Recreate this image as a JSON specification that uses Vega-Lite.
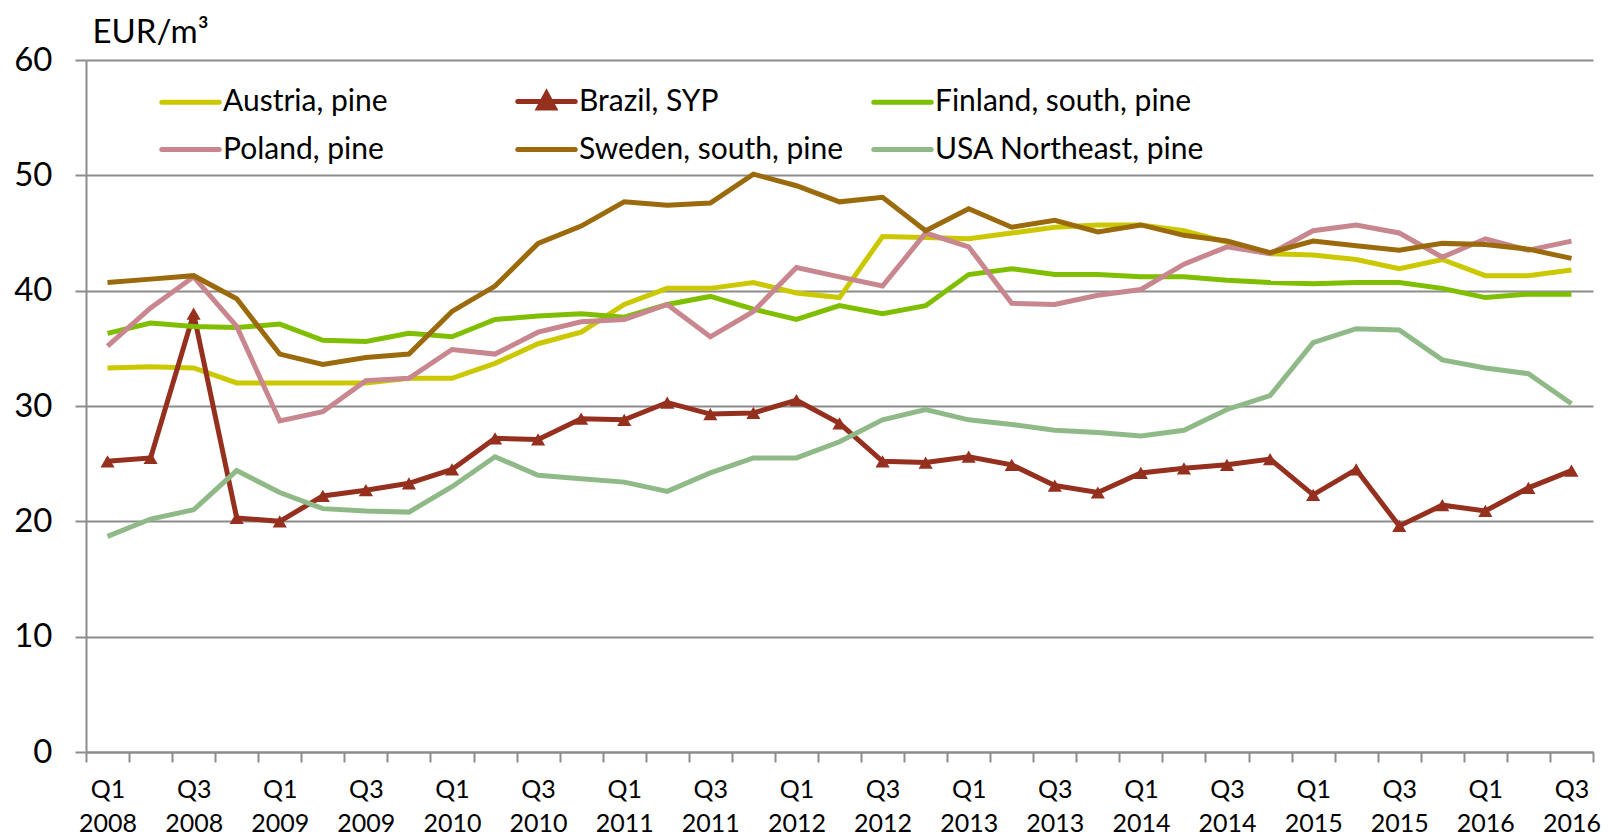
{
"$schema": "https://vega.github.io/schema/vega-lite/v6.json",
"width": 1507, "height": 692,
"autosize": "none",
"padding": {"left": 86, "top": 60, "right": 15, "bottom": 86},
"background": "white",
"config": {"font": "Lato", "view": {"stroke": null}},
"data": {"values": [
{"q":"Q1 2008","s":"Austria, pine","v":33.3},{"q":"Q2 2008","s":"Austria, pine","v":33.4},{"q":"Q3 2008","s":"Austria, pine","v":33.3},{"q":"Q4 2008","s":"Austria, pine","v":32.0},
{"q":"Q1 2009","s":"Austria, pine","v":32.0},{"q":"Q2 2009","s":"Austria, pine","v":32.0},{"q":"Q3 2009","s":"Austria, pine","v":32.0},{"q":"Q4 2009","s":"Austria, pine","v":32.4},
{"q":"Q1 2010","s":"Austria, pine","v":32.4},{"q":"Q2 2010","s":"Austria, pine","v":33.7},{"q":"Q3 2010","s":"Austria, pine","v":35.4},{"q":"Q4 2010","s":"Austria, pine","v":36.4},
{"q":"Q1 2011","s":"Austria, pine","v":38.8},{"q":"Q2 2011","s":"Austria, pine","v":40.2},{"q":"Q3 2011","s":"Austria, pine","v":40.2},{"q":"Q4 2011","s":"Austria, pine","v":40.7},
{"q":"Q1 2012","s":"Austria, pine","v":39.8},{"q":"Q2 2012","s":"Austria, pine","v":39.4},{"q":"Q3 2012","s":"Austria, pine","v":44.7},{"q":"Q4 2012","s":"Austria, pine","v":44.6},
{"q":"Q1 2013","s":"Austria, pine","v":44.5},{"q":"Q2 2013","s":"Austria, pine","v":45.0},{"q":"Q3 2013","s":"Austria, pine","v":45.5},{"q":"Q4 2013","s":"Austria, pine","v":45.7},
{"q":"Q1 2014","s":"Austria, pine","v":45.7},{"q":"Q2 2014","s":"Austria, pine","v":45.2},{"q":"Q3 2014","s":"Austria, pine","v":44.2},{"q":"Q4 2014","s":"Austria, pine","v":43.2},
{"q":"Q1 2015","s":"Austria, pine","v":43.1},{"q":"Q2 2015","s":"Austria, pine","v":42.7},{"q":"Q3 2015","s":"Austria, pine","v":41.9},{"q":"Q4 2015","s":"Austria, pine","v":42.7},
{"q":"Q1 2016","s":"Austria, pine","v":41.3},{"q":"Q2 2016","s":"Austria, pine","v":41.3},{"q":"Q3 2016","s":"Austria, pine","v":41.8},

{"q":"Q1 2008","s":"Brazil, SYP","v":25.2},{"q":"Q2 2008","s":"Brazil, SYP","v":25.5},{"q":"Q3 2008","s":"Brazil, SYP","v":38.0},{"q":"Q4 2008","s":"Brazil, SYP","v":20.3},
{"q":"Q1 2009","s":"Brazil, SYP","v":20.0},{"q":"Q2 2009","s":"Brazil, SYP","v":22.2},{"q":"Q3 2009","s":"Brazil, SYP","v":22.7},{"q":"Q4 2009","s":"Brazil, SYP","v":23.3},
{"q":"Q1 2010","s":"Brazil, SYP","v":24.5},{"q":"Q2 2010","s":"Brazil, SYP","v":27.2},{"q":"Q3 2010","s":"Brazil, SYP","v":27.1},{"q":"Q4 2010","s":"Brazil, SYP","v":28.9},
{"q":"Q1 2011","s":"Brazil, SYP","v":28.8},{"q":"Q2 2011","s":"Brazil, SYP","v":30.3},{"q":"Q3 2011","s":"Brazil, SYP","v":29.3},{"q":"Q4 2011","s":"Brazil, SYP","v":29.4},
{"q":"Q1 2012","s":"Brazil, SYP","v":30.5},{"q":"Q2 2012","s":"Brazil, SYP","v":28.5},{"q":"Q3 2012","s":"Brazil, SYP","v":25.2},{"q":"Q4 2012","s":"Brazil, SYP","v":25.1},
{"q":"Q1 2013","s":"Brazil, SYP","v":25.6},{"q":"Q2 2013","s":"Brazil, SYP","v":24.9},{"q":"Q3 2013","s":"Brazil, SYP","v":23.1},{"q":"Q4 2013","s":"Brazil, SYP","v":22.5},
{"q":"Q1 2014","s":"Brazil, SYP","v":24.2},{"q":"Q2 2014","s":"Brazil, SYP","v":24.6},{"q":"Q3 2014","s":"Brazil, SYP","v":24.9},{"q":"Q4 2014","s":"Brazil, SYP","v":25.4},
{"q":"Q1 2015","s":"Brazil, SYP","v":22.3},{"q":"Q2 2015","s":"Brazil, SYP","v":24.5},{"q":"Q3 2015","s":"Brazil, SYP","v":19.6},{"q":"Q4 2015","s":"Brazil, SYP","v":21.4},
{"q":"Q1 2016","s":"Brazil, SYP","v":20.9},{"q":"Q2 2016","s":"Brazil, SYP","v":22.9},{"q":"Q3 2016","s":"Brazil, SYP","v":24.4},

{"q":"Q1 2008","s":"Finland, south, pine","v":36.3},{"q":"Q2 2008","s":"Finland, south, pine","v":37.2},{"q":"Q3 2008","s":"Finland, south, pine","v":36.9},{"q":"Q4 2008","s":"Finland, south, pine","v":36.8},
{"q":"Q1 2009","s":"Finland, south, pine","v":37.1},{"q":"Q2 2009","s":"Finland, south, pine","v":35.7},{"q":"Q3 2009","s":"Finland, south, pine","v":35.6},{"q":"Q4 2009","s":"Finland, south, pine","v":36.3},
{"q":"Q1 2010","s":"Finland, south, pine","v":36.0},{"q":"Q2 2010","s":"Finland, south, pine","v":37.5},{"q":"Q3 2010","s":"Finland, south, pine","v":37.8},{"q":"Q4 2010","s":"Finland, south, pine","v":38.0},
{"q":"Q1 2011","s":"Finland, south, pine","v":37.7},{"q":"Q2 2011","s":"Finland, south, pine","v":38.8},{"q":"Q3 2011","s":"Finland, south, pine","v":39.5},{"q":"Q4 2011","s":"Finland, south, pine","v":38.4},
{"q":"Q1 2012","s":"Finland, south, pine","v":37.5},{"q":"Q2 2012","s":"Finland, south, pine","v":38.7},{"q":"Q3 2012","s":"Finland, south, pine","v":38.0},{"q":"Q4 2012","s":"Finland, south, pine","v":38.7},
{"q":"Q1 2013","s":"Finland, south, pine","v":41.4},{"q":"Q2 2013","s":"Finland, south, pine","v":41.9},{"q":"Q3 2013","s":"Finland, south, pine","v":41.4},{"q":"Q4 2013","s":"Finland, south, pine","v":41.4},
{"q":"Q1 2014","s":"Finland, south, pine","v":41.2},{"q":"Q2 2014","s":"Finland, south, pine","v":41.2},{"q":"Q3 2014","s":"Finland, south, pine","v":40.9},{"q":"Q4 2014","s":"Finland, south, pine","v":40.7},
{"q":"Q1 2015","s":"Finland, south, pine","v":40.6},{"q":"Q2 2015","s":"Finland, south, pine","v":40.7},{"q":"Q3 2015","s":"Finland, south, pine","v":40.7},{"q":"Q4 2015","s":"Finland, south, pine","v":40.2},
{"q":"Q1 2016","s":"Finland, south, pine","v":39.4},{"q":"Q2 2016","s":"Finland, south, pine","v":39.7},{"q":"Q3 2016","s":"Finland, south, pine","v":39.7},

{"q":"Q1 2008","s":"Poland, pine","v":35.2},{"q":"Q2 2008","s":"Poland, pine","v":38.5},{"q":"Q3 2008","s":"Poland, pine","v":41.2},{"q":"Q4 2008","s":"Poland, pine","v":36.9},
{"q":"Q1 2009","s":"Poland, pine","v":28.7},{"q":"Q2 2009","s":"Poland, pine","v":29.5},{"q":"Q3 2009","s":"Poland, pine","v":32.2},{"q":"Q4 2009","s":"Poland, pine","v":32.4},
{"q":"Q1 2010","s":"Poland, pine","v":34.9},{"q":"Q2 2010","s":"Poland, pine","v":34.5},{"q":"Q3 2010","s":"Poland, pine","v":36.4},{"q":"Q4 2010","s":"Poland, pine","v":37.3},
{"q":"Q1 2011","s":"Poland, pine","v":37.5},{"q":"Q2 2011","s":"Poland, pine","v":38.8},{"q":"Q3 2011","s":"Poland, pine","v":36.0},{"q":"Q4 2011","s":"Poland, pine","v":38.2},
{"q":"Q1 2012","s":"Poland, pine","v":42.0},{"q":"Q2 2012","s":"Poland, pine","v":41.2},{"q":"Q3 2012","s":"Poland, pine","v":40.4},{"q":"Q4 2012","s":"Poland, pine","v":45.0},
{"q":"Q1 2013","s":"Poland, pine","v":43.8},{"q":"Q2 2013","s":"Poland, pine","v":38.9},{"q":"Q3 2013","s":"Poland, pine","v":38.8},{"q":"Q4 2013","s":"Poland, pine","v":39.6},
{"q":"Q1 2014","s":"Poland, pine","v":40.1},{"q":"Q2 2014","s":"Poland, pine","v":42.3},{"q":"Q3 2014","s":"Poland, pine","v":43.8},{"q":"Q4 2014","s":"Poland, pine","v":43.2},
{"q":"Q1 2015","s":"Poland, pine","v":45.2},{"q":"Q2 2015","s":"Poland, pine","v":45.7},{"q":"Q3 2015","s":"Poland, pine","v":45.0},{"q":"Q4 2015","s":"Poland, pine","v":42.9},
{"q":"Q1 2016","s":"Poland, pine","v":44.5},{"q":"Q2 2016","s":"Poland, pine","v":43.5},{"q":"Q3 2016","s":"Poland, pine","v":44.3},

{"q":"Q1 2008","s":"Sweden, south, pine","v":40.7},{"q":"Q2 2008","s":"Sweden, south, pine","v":41.0},{"q":"Q3 2008","s":"Sweden, south, pine","v":41.3},{"q":"Q4 2008","s":"Sweden, south, pine","v":39.3},
{"q":"Q1 2009","s":"Sweden, south, pine","v":34.5},{"q":"Q2 2009","s":"Sweden, south, pine","v":33.6},{"q":"Q3 2009","s":"Sweden, south, pine","v":34.2},{"q":"Q4 2009","s":"Sweden, south, pine","v":34.5},
{"q":"Q1 2010","s":"Sweden, south, pine","v":38.2},{"q":"Q2 2010","s":"Sweden, south, pine","v":40.4},{"q":"Q3 2010","s":"Sweden, south, pine","v":44.1},{"q":"Q4 2010","s":"Sweden, south, pine","v":45.6},
{"q":"Q1 2011","s":"Sweden, south, pine","v":47.7},{"q":"Q2 2011","s":"Sweden, south, pine","v":47.4},{"q":"Q3 2011","s":"Sweden, south, pine","v":47.6},{"q":"Q4 2011","s":"Sweden, south, pine","v":50.1},
{"q":"Q1 2012","s":"Sweden, south, pine","v":49.1},{"q":"Q2 2012","s":"Sweden, south, pine","v":47.7},{"q":"Q3 2012","s":"Sweden, south, pine","v":48.1},{"q":"Q4 2012","s":"Sweden, south, pine","v":45.2},
{"q":"Q1 2013","s":"Sweden, south, pine","v":47.1},{"q":"Q2 2013","s":"Sweden, south, pine","v":45.5},{"q":"Q3 2013","s":"Sweden, south, pine","v":46.1},{"q":"Q4 2013","s":"Sweden, south, pine","v":45.1},
{"q":"Q1 2014","s":"Sweden, south, pine","v":45.7},{"q":"Q2 2014","s":"Sweden, south, pine","v":44.8},{"q":"Q3 2014","s":"Sweden, south, pine","v":44.3},{"q":"Q4 2014","s":"Sweden, south, pine","v":43.3},
{"q":"Q1 2015","s":"Sweden, south, pine","v":44.3},{"q":"Q2 2015","s":"Sweden, south, pine","v":43.9},{"q":"Q3 2015","s":"Sweden, south, pine","v":43.5},{"q":"Q4 2015","s":"Sweden, south, pine","v":44.1},
{"q":"Q1 2016","s":"Sweden, south, pine","v":44.0},{"q":"Q2 2016","s":"Sweden, south, pine","v":43.6},{"q":"Q3 2016","s":"Sweden, south, pine","v":42.8},

{"q":"Q1 2008","s":"USA Northeast, pine","v":18.7},{"q":"Q2 2008","s":"USA Northeast, pine","v":20.2},{"q":"Q3 2008","s":"USA Northeast, pine","v":21.0},{"q":"Q4 2008","s":"USA Northeast, pine","v":24.4},
{"q":"Q1 2009","s":"USA Northeast, pine","v":22.5},{"q":"Q2 2009","s":"USA Northeast, pine","v":21.1},{"q":"Q3 2009","s":"USA Northeast, pine","v":20.9},{"q":"Q4 2009","s":"USA Northeast, pine","v":20.8},
{"q":"Q1 2010","s":"USA Northeast, pine","v":23.0},{"q":"Q2 2010","s":"USA Northeast, pine","v":25.6},{"q":"Q3 2010","s":"USA Northeast, pine","v":24.0},{"q":"Q4 2010","s":"USA Northeast, pine","v":23.7},
{"q":"Q1 2011","s":"USA Northeast, pine","v":23.4},{"q":"Q2 2011","s":"USA Northeast, pine","v":22.6},{"q":"Q3 2011","s":"USA Northeast, pine","v":24.2},{"q":"Q4 2011","s":"USA Northeast, pine","v":25.5},
{"q":"Q1 2012","s":"USA Northeast, pine","v":25.5},{"q":"Q2 2012","s":"USA Northeast, pine","v":26.9},{"q":"Q3 2012","s":"USA Northeast, pine","v":28.8},{"q":"Q4 2012","s":"USA Northeast, pine","v":29.7},
{"q":"Q1 2013","s":"USA Northeast, pine","v":28.8},{"q":"Q2 2013","s":"USA Northeast, pine","v":28.4},{"q":"Q3 2013","s":"USA Northeast, pine","v":27.9},{"q":"Q4 2013","s":"USA Northeast, pine","v":27.7},
{"q":"Q1 2014","s":"USA Northeast, pine","v":27.4},{"q":"Q2 2014","s":"USA Northeast, pine","v":27.9},{"q":"Q3 2014","s":"USA Northeast, pine","v":29.7},{"q":"Q4 2014","s":"USA Northeast, pine","v":30.9},
{"q":"Q1 2015","s":"USA Northeast, pine","v":35.5},{"q":"Q2 2015","s":"USA Northeast, pine","v":36.7},{"q":"Q3 2015","s":"USA Northeast, pine","v":36.6},{"q":"Q4 2015","s":"USA Northeast, pine","v":34.0},
{"q":"Q1 2016","s":"USA Northeast, pine","v":33.3},{"q":"Q2 2016","s":"USA Northeast, pine","v":32.8},{"q":"Q3 2016","s":"USA Northeast, pine","v":30.2}
]},
"encoding": {
  "x": {"field": "q", "type": "ordinal", "sort": null,
    "scale": {"type": "band", "paddingInner": 0, "paddingOuter": 0},
    "axis": {"title": null, "tickBand": "extent", "labelAngle": 0,
      "labelExpr": "!isString(datum.value) ? '' : (indexof(datum.value,'Q2')>=0 || indexof(datum.value,'Q4')>=0 ? '' : split(datum.value,' '))",
      "labelFontSize": 25, "labelColor": "black", "labelBaseline": "top", "labelLineHeight": 34,
      "labelPadding": 15, "labelOverlap": false, "labelBound": false, "labelFlush": false,
      "tickSize": 10, "tickColor": "#8c8c8c", "tickWidth": 2, "domainColor": "#8c8c8c", "domainWidth": 2, "grid": false}},
  "y": {"field": "v", "type": "quantitative", "scale": {"domain": [0, 60], "nice": false, "zero": true},
    "axis": {"title": "EUR/m³", "titleAngle": 0, "titleX": 6, "titleY": -18, "titleAlign": "left", "titleBaseline": "alphabetic",
      "titleFontSize": 33, "titleFontWeight": "normal", "titleColor": "black",
      "values": [0, 10, 20, 30, 40, 50, 60], "labelFontSize": 33, "labelColor": "black", "labelPadding": 23,
      "tickSize": 11, "tickColor": "#8c8c8c", "tickWidth": 2, "domainColor": "#8c8c8c", "domainWidth": 2,
      "grid": true, "gridColor": "#8c8c8c", "gridWidth": 2}}
},
"layer": [
  {"mark": {"type": "line", "strokeWidth": 5},
   "encoding": {"color": {"field": "s", "type": "nominal",
     "scale": {"domain": ["Austria, pine", "Brazil, SYP", "Finland, south, pine", "Poland, pine", "Sweden, south, pine", "USA Northeast, pine"],
               "range": ["#CCC800", "#96301E", "#80BE00", "#C8868E", "#9A6A0C", "#8FBA87"]},
     "legend": {"title": null, "orient": "none", "legendX": 73, "legendY": 10, "columns": 3, "direction": "horizontal",
       "gridAlign": "all", "columnPadding": 14, "rowPadding": -11, "padding": 0,
       "labelFontSize": 30, "labelColor": "black", "labelOffset": 1, "labelLimit": 400,
       "symbolType": "stroke", "symbolSize": 3300, "symbolStrokeWidth": 5,
       "encode": {"symbols": {"update": {
         "shape": {"signal": "datum.value === 'Brazil, SYP' ? 'M-1,0L1,0M-0.27,0.22L0,-0.28L0.27,0.22Z' : 'stroke'"},
         "fill": {"signal": "datum.value === 'Brazil, SYP' ? '#96301E' : 'transparent'"},
         "strokeCap": {"value": "round"}}}}}}}},
  {"transform": [{"filter": "datum.s === 'Brazil, SYP'"}],
   "mark": {"type": "point", "shape": "triangle-up", "filled": true, "size": 200, "color": "#96301E", "opacity": 1}}
]
}
